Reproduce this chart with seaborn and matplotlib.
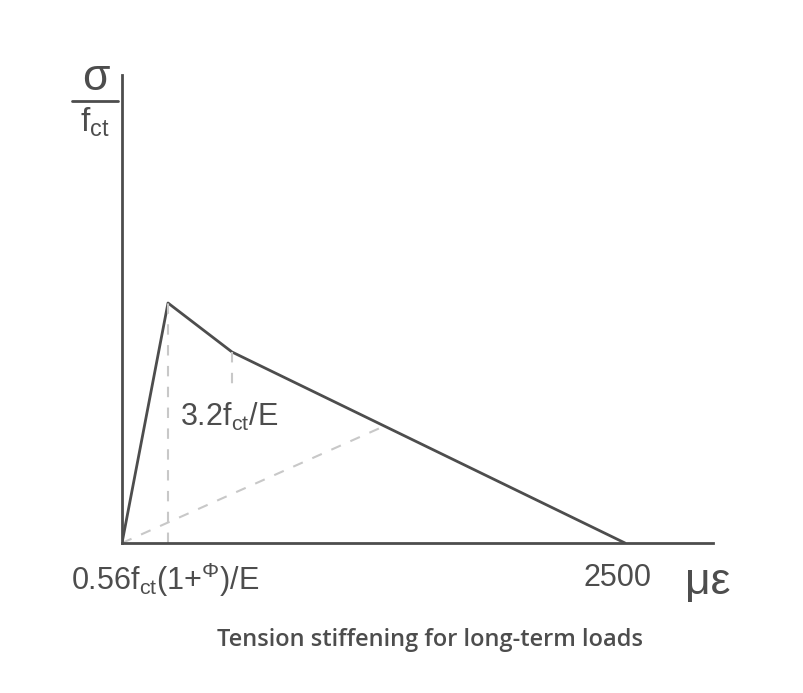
import matplotlib
matplotlib.use("Agg")
import matplotlib.pyplot as plt
import seaborn as sns

sns.set_style("white")
plt.rcParams['font.family'] = ['Liberation Sans', 'DejaVu Sans']
plt.rcParams['mathtext.fontset'] = 'custom'
plt.rcParams['mathtext.rm'] = 'Liberation Sans'

# curve points (strain, stress) in arbitrary chart units
strain = [0, 46, 110, 503]
stress = [0, 240, 191, 0]
# dashed guide lines
peak_guide_x = [46, 46]
peak_guide_y = [0, 240]
knee_guide_x = [110, 110]
knee_guide_y = [191, 150]
diag_x = [0, 258]
diag_y = [0, 115]

W, H = 804, 693
fig = plt.figure(figsize=(W / 100, H / 100), dpi=100)
ax = fig.add_axes([122 / W, 1 - 543 / H, 591 / W, 468 / H])
dark = '#4d4d4d'
grey = '#c8c8c8'

sns.lineplot(x=strain, y=stress, ax=ax, color=dark, lw=2, sort=False)
for xs, ys in [(peak_guide_x, peak_guide_y), (knee_guide_x, knee_guide_y), (diag_x, diag_y)]:
    ax.plot(xs, ys, color=grey, lw=1.5, ls=(0, (5, 5)))

ax.set_xlim(0, 591)
ax.set_ylim(0, 468)
ax.set_xticks([])
ax.set_yticks([])
for s in ['top', 'right']:
    ax.spines[s].set_visible(False)
for s in ['left', 'bottom']:
    ax.spines[s].set_color(dark)
    ax.spines[s].set_linewidth(2)

def ft(x, y, s, **kw):
    fig.text(x / W, 1 - y / H, s, color=dark, **kw)

ft(180, 417, r'3.2f$_{\mathregular{ct}}$/E', fontsize=22, va='center')
ft(165, 580, r'0.56f$_{\mathregular{ct}}$(1+$^{\mathregular{\Phi}}$)/E', fontsize=22, ha='center', va='center')
ft(618, 578, '2500', fontsize=22, ha='center', va='center')
ft(708, 582, 'με', fontsize=32, ha='center', va='center')
ft(96, 78, 'σ', fontsize=32, ha='center', va='center')
fig.add_artist(plt.Line2D([72 / W, 118 / W], [1 - 101 / H, 1 - 101 / H], color=dark, lw=2))
ft(95, 122, r'f$_{\mathregular{ct}}$', fontsize=24, ha='center', va='center')
ft(430, 640, 'Tension stiffening for long-term loads', fontsize=17, ha='center',
   va='center', fontweight='semibold', family=['Open Sans', 'DejaVu Sans'])

fig.savefig('out.png', dpi=100)
